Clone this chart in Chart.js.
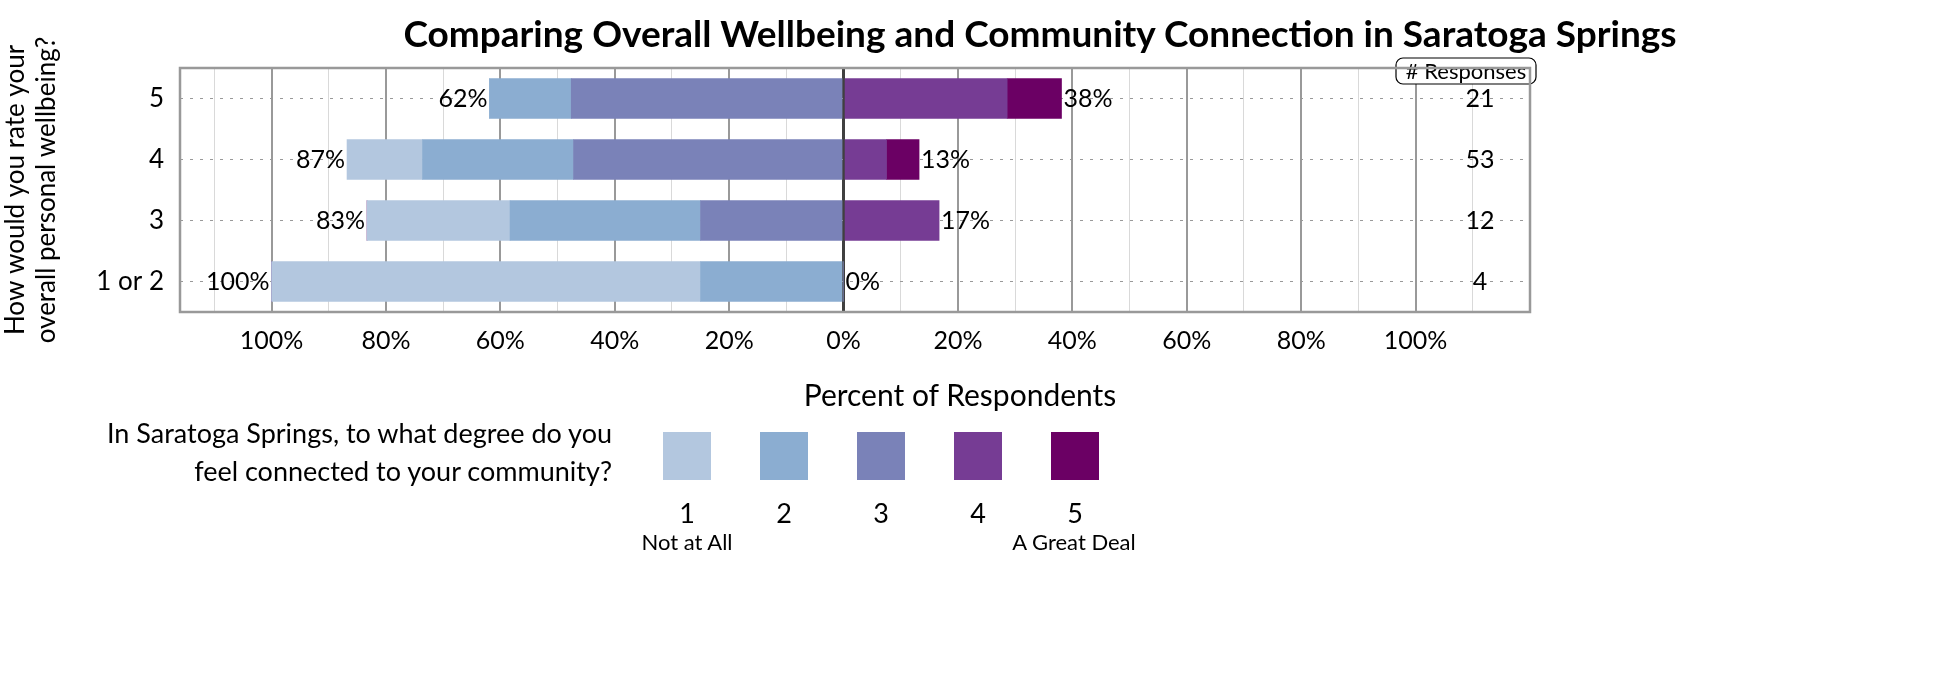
<!DOCTYPE html>
<html>
<head>
<meta charset="utf-8">
<script src="https://cdn.jsdelivr.net/npm/chart.js@4"></script>
<style>
  body { margin: 0; width: 1950px; height: 675px; background: #fff; font-family: Lato, "Open Sans", sans-serif; position: relative; overflow: hidden; }
  #wrap { position: absolute; left: 0; top: 0; width: 1950px; height: 675px; }
  .abs { position: absolute; color: #000; }
  .box { position: absolute; width: 48px; height: 48px; top: 432px; }
</style>
</head>
<body>
<div id="wrap"><canvas id="chart"></canvas></div>
<div class="abs" style="left:0;top:10px;text-align:center;padding-left:180px;box-sizing:border-box;width:1900px;font-size:37px;font-weight:bold;">Comparing Overall Wellbeing and Community Connection in Saratoga Springs</div>
<div class="abs" style="left:710px;width:500px;text-align:center;top:376px;font-size:30px;">Percent of Respondents</div>
<div class="abs" style="left:0;width:612px;text-align:right;top:414px;font-size:27px;line-height:38px;">In Saratoga Springs, to what degree do you<br>feel connected to your community?</div>
<div id="legend"></div>

<script>
const categories = ['5', '4', '3', '1 or 2'];
const responses = [21, 53, 12, 4];
// percent of respondents per connection level (1..5)
const level1 = [0, 13.2, 25, 75];
const level2 = [14.3, 26.4, 33.3, 25];
const level3 = [47.6, 47.2, 25, 0];
const level4 = [28.6, 7.5, 16.7, 0];
const level5 = [9.5, 5.7, 0, 0];
const leftTotals = ['62%', '87%', '83%', '100%'];
const rightTotals = ['38%', '13%', '17%', '0%'];
const levelNames = ['1', '2', '3', '4', '5'];
const colors = ['#b3c7df', '#8badd1', '#7a82b8', '#763c94', '#6b0064'];

// legend
const legend = document.getElementById('legend');
levelNames.forEach((n, i) => {
    const x = 663 + i * 97;
    legend.insertAdjacentHTML('beforeend',
        `<div class="box" style="left:${x}px;background:${colors[i]}"></div>
         <div class="abs" style="left:${x - 20}px;width:88px;text-align:center;top:496px;font-size:27px;">${n}</div>`);
});
legend.insertAdjacentHTML('beforeend',
    `<div class="abs" style="left:587px;width:200px;text-align:center;top:528px;font-size:22px;">Not at All</div>
     <div class="abs" style="left:974px;width:200px;text-align:center;top:528px;font-size:22px;">A Great Deal</div>`);

const neg = arr => arr.map(v => -v);

const labelPlugin = {
    id: 'labels',
    afterDatasetsDraw(chart) {
        const { ctx, scales: { x, y }, chartArea } = chart;
        ctx.save();
        ctx.font = '25px Lato, sans-serif';
        ctx.fillStyle = '#000';
        ctx.textBaseline = 'middle';
        categories.forEach((c, i) => {
            const yy = y.getPixelForValue(i);
            const l = level1[i] + level2[i] + level3[i];
            const r = level4[i] + level5[i];
            ctx.textAlign = 'right';
            ctx.fillText(leftTotals[i], x.getPixelForValue(-l) - 2, yy);
            ctx.textAlign = 'left';
            ctx.fillText(rightTotals[i], x.getPixelForValue(r) + 2, yy);
            ctx.textAlign = 'center';
            ctx.fillText(String(responses[i]), 1480, yy);
        });
        // # Responses box
        ctx.font = '22px Lato, sans-serif';
        const bx = 1396, by = 58, bw = 140, bh = 26;
        ctx.fillStyle = '#fff';
        ctx.strokeStyle = '#000';
        ctx.lineWidth = 1.2;
        ctx.beginPath();
        ctx.roundRect(bx, by, bw, bh, 7);
        ctx.fill();
        ctx.stroke();
        ctx.fillStyle = '#000';
        ctx.textAlign = 'center';
        ctx.fillText('# Responses', bx + bw / 2, by + bh / 2 + 1);
        // plot border
        ctx.strokeStyle = '#999';
        ctx.lineWidth = 2.5;
        ctx.strokeRect(chartArea.left, chartArea.top, chartArea.right - chartArea.left, chartArea.bottom - chartArea.top);
        ctx.restore();
    }
};

new Chart(document.getElementById('chart'), {
    type: 'bar',
    data: {
        labels: categories,
        datasets: [
            { label: '3', data: neg(level3), backgroundColor: colors[2] },
            { label: '2', data: neg(level2), backgroundColor: colors[1] },
            { label: '1', data: neg(level1), backgroundColor: colors[0] },
            { label: '4', data: level4, backgroundColor: colors[3] },
            { label: '5', data: level5, backgroundColor: colors[4] }
        ]
    },
    options: {
        indexAxis: 'y',
        responsive: true,
        maintainAspectRatio: false,
        animation: false,
        layout: { padding: { top: 68, right: 420, left: 0, bottom: 0 } },
        plugins: { legend: { display: false }, tooltip: { enabled: false } },
        datasets: { bar: { barThickness: 40, borderWidth: 0 } },
        scales: {
            x: {
                stacked: true,
                min: -116,
                max: 120,
                afterFit: s => { s.height = 363; },
                afterBuildTicks: s => {
                    const t = [];
                    for (let v = -110; v <= 110; v += 10) t.push({ value: v });
                    s.ticks = t;
                },
                border: { display: false },
                grid: {
                    drawTicks: false,
                    color: c => c.tick.value === 0 ? '#404040' : (c.tick.value % 20 === 0 ? '#999' : '#d9d9d9'),
                    lineWidth: c => c.tick.value === 0 ? 3 : (c.tick.value % 20 === 0 ? 2 : 1)
                },
                ticks: {
                    padding: 14,
                    autoSkip: false,
                    maxRotation: 0,
                    color: '#000',
                    font: { family: 'Lato', size: 25 },
                    callback: v => (v % 20 === 0 && Math.abs(v) <= 100) ? Math.abs(v) + '%' : ''
                }
            },
            y: {
                stacked: true,
                afterFit: s => { s.width = 180; },
                border: { display: false, dash: [3, 7] },
                grid: { offset: false, drawTicks: false, color: '#999' },
                ticks: { padding: 16, color: '#000', font: { family: 'Lato', size: 26 } },
                title: {
                    display: true,
                    text: ['How would you rate your', 'overall personal wellbeing?'],
                    color: '#000',
                    font: { family: 'Lato', size: 26 },
                    padding: { top: 0, bottom: 8 }
                }
            }
        }
    },
    plugins: [labelPlugin]
});
</script>
</body>
</html>
